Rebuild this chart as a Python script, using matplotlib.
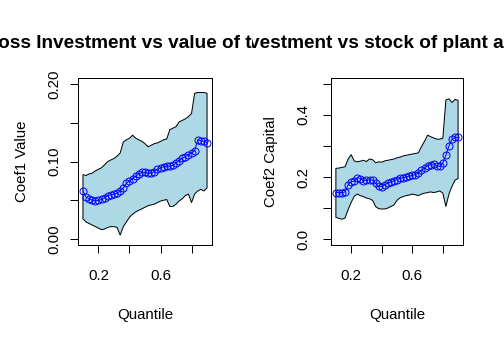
import matplotlib

matplotlib.use("Agg")
import matplotlib.pyplot as plt
from matplotlib.transforms import Bbox, TransformedBbox

plt.rcParams["font.family"] = ["Liberation Sans", "DejaVu Sans"]

taus = [0.10, 0.12, 0.14, 0.16, 0.18, 0.20, 0.22, 0.24, 0.26, 0.28,
        0.30, 0.32, 0.34, 0.36, 0.38, 0.40, 0.42, 0.44, 0.46, 0.48,
        0.50, 0.52, 0.54, 0.56, 0.58, 0.60, 0.62, 0.64, 0.66, 0.68,
        0.70, 0.72, 0.74, 0.76, 0.78, 0.80, 0.82, 0.84, 0.86, 0.88, 0.90]

# coefficient on firm value
value_coef = [0.062, 0.054, 0.052, 0.050, 0.049, 0.050, 0.051, 0.053, 0.056, 0.057,
              0.058, 0.059, 0.062, 0.066, 0.072, 0.075, 0.078, 0.081, 0.084, 0.086,
              0.086, 0.085, 0.085, 0.087, 0.090, 0.092, 0.093, 0.094, 0.094, 0.095,
              0.098, 0.101, 0.104, 0.106, 0.109, 0.111, 0.114, 0.128, 0.127, 0.126, 0.124]
value_upper = [0.083, 0.082, 0.084, 0.085, 0.088, 0.090, 0.092, 0.096, 0.100, 0.102,
               0.104, 0.107, 0.111, 0.125, 0.128, 0.130, 0.134, 0.130, 0.128, 0.126,
               0.123, 0.119, 0.121, 0.123, 0.124, 0.126, 0.128, 0.129, 0.141, 0.143,
               0.145, 0.151, 0.153, 0.155, 0.158, 0.162, 0.188, 0.189, 0.189, 0.189, 0.188]
value_lower = [0.026, 0.022, 0.020, 0.018, 0.016, 0.014, 0.012, 0.013, 0.015, 0.016,
               0.016, 0.015, 0.005, 0.016, 0.022, 0.028, 0.032, 0.035, 0.037, 0.039,
               0.041, 0.043, 0.044, 0.045, 0.047, 0.049, 0.050, 0.051, 0.042, 0.042,
               0.045, 0.049, 0.052, 0.056, 0.058, 0.047, 0.058, 0.062, 0.064, 0.062, 0.066]

# coefficient on capital stock
capital_coef = [0.150, 0.150, 0.150, 0.152, 0.175, 0.185, 0.187, 0.198, 0.195, 0.188,
                0.189, 0.191, 0.190, 0.180, 0.170, 0.169, 0.175, 0.180, 0.184, 0.188,
                0.192, 0.196, 0.198, 0.200, 0.203, 0.205, 0.208, 0.213, 0.222, 0.228,
                0.237, 0.240, 0.242, 0.236, 0.234, 0.245, 0.270, 0.300, 0.322, 0.328, 0.328]
capital_upper = [0.228, 0.229, 0.231, 0.233, 0.258, 0.272, 0.252, 0.249, 0.251, 0.254,
                 0.250, 0.258, 0.256, 0.246, 0.249, 0.248, 0.252, 0.254, 0.256, 0.258,
                 0.262, 0.264, 0.268, 0.270, 0.272, 0.274, 0.276, 0.278, 0.298, 0.315,
                 0.335, 0.330, 0.326, 0.322, 0.322, 0.325, 0.448, 0.452, 0.440, 0.450, 0.447]
capital_lower = [0.070, 0.067, 0.064, 0.068, 0.095, 0.118, 0.138, 0.145, 0.140, 0.137,
                 0.132, 0.130, 0.125, 0.105, 0.098, 0.097, 0.097, 0.100, 0.105, 0.110,
                 0.125, 0.133, 0.137, 0.140, 0.142, 0.145, 0.143, 0.140, 0.145, 0.148,
                 0.150, 0.152, 0.150, 0.152, 0.155, 0.148, 0.105, 0.145, 0.170, 0.190, 0.195]

W, H = 504, 343


def draw_panel(ax, coef, upper, lower, ylabel, ylim, yticks, yticklabels, ypad):
    xs = taus + taus[::-1]
    ys = upper + lower[::-1]
    ax.fill(xs, ys, facecolor="lightblue", edgecolor="black", linewidth=1)
    ax.plot(taus, coef, "-o", color="blue", markerfacecolor="none",
            markersize=7, markeredgewidth=1, linewidth=1)
    ax.set_xlim(0.068, 0.932)
    ax.set_ylim(*ylim)
    ax.set_xticks([0.2, 0.4, 0.6, 0.8], ["0.2", "", "0.6", ""])
    ax.set_yticks(yticks, yticklabels)
    ax.tick_params(axis="x", length=8, width=1, pad=16, labelsize=15)
    ax.tick_params(axis="y", length=8, width=1, pad=ypad, labelsize=15)
    for lab in ax.get_yticklabels():
        lab.set_rotation(90)
        lab.set_va("center")
    for s in ax.spines.values():
        s.set_linewidth(1)
    ax.set_xlabel("Quantile", fontsize=15, labelpad=25)
    ax.set_ylabel(ylabel, fontsize=15, labelpad=18)


fig = plt.figure(figsize=(W / 72, H / 72), dpi=72)
ax1 = fig.add_axes([78 / W, 1 - 245 / H, 134 / W, 167 / H])
ax2 = fig.add_axes([331 / W, 1 - 245 / H, 132 / W, 167 / H])

draw_panel(ax1, value_coef, value_upper, value_lower, "Coef1 Value",
           (-0.0077, 0.2077), [0.0, 0.05, 0.10, 0.15, 0.20],
           ["0.00", "", "0.10", "", "0.20"], 9)
draw_panel(ax2, capital_coef, capital_upper, capital_lower, "Coef2 Capital",
           (-0.019, 0.519), [0.0, 0.1, 0.2, 0.3, 0.4, 0.5],
           ["0.0", "", "0.2", "", "0.4", ""], 13)

# each panel title is clipped to its own half of the figure, as in R
titles = [("Gross Investment vs value of the firm", 145, (0, 0.5)),
          ("Gross Investment vs stock of plant and equipment", 400, (0.5, 1))]
for text, cx, (x0, x1) in titles:
    t = fig.text(cx / W, 1 - 48 / H, text, ha="center", va="baseline",
                 fontsize=19, fontweight="bold")
    t.set_clip_box(TransformedBbox(Bbox([[x0, 0], [x1, 1]]), fig.transFigure))
    t.set_clip_on(True)

fig.savefig("out.png", dpi=72)
